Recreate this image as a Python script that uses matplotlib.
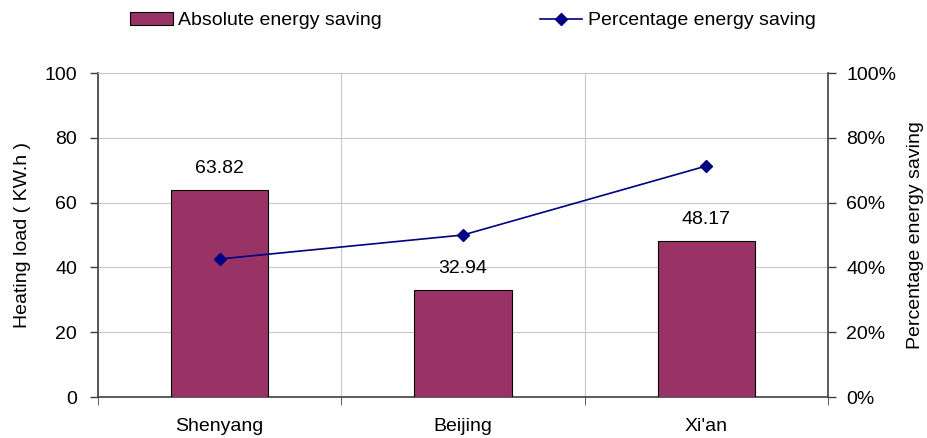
import matplotlib
matplotlib.use("Agg")
import matplotlib.pyplot as plt
from matplotlib.ticker import FuncFormatter, FixedLocator
from matplotlib.patches import Patch
from matplotlib.lines import Line2D

plt.rcParams['font.family'] = ['Liberation Sans', 'DejaVu Sans']

cities = ["Shenyang", "Beijing", "Xi'an"]
absolute_saving = [63.82, 32.94, 48.17]
percentage_saving = [42.6, 50.0, 71.3]

bar_color = "#993366"
line_color = "#000080"
FS = 14

fig = plt.figure(figsize=(9.28, 4.38), dpi=100)
ax = fig.add_axes([98 / 928, 1 - 397 / 438, 730 / 928, 324 / 438])

x = list(range(len(cities)))
ax.bar(x, absolute_saving, width=0.40, color=bar_color,
       edgecolor="black", linewidth=0.8, zorder=3)
for xi, v in zip(x, absolute_saving):
    ax.text(xi, v + 4, f"{v:.2f}", ha="center", va="bottom", fontsize=FS)

ax.set_xlim(-0.5, len(cities) - 0.5)
ax.set_ylim(0, 100)
ax.set_yticks([0, 20, 40, 60, 80, 100])
ax.set_xticks(x)
ax.set_xticklabels(cities, fontsize=FS)
ax.tick_params(axis="x", length=0, pad=15)
ax.xaxis.set_minor_locator(FixedLocator([-0.5, 0.5, 1.5, 2.5]))
ax.tick_params(axis="x", which="minor", length=6, direction="out", color="#404040")
ax.tick_params(axis="y", labelsize=FS, length=6, width=1, direction="out",
               color="#404040", pad=9)
ax.set_ylabel("Heating load ( KW.h )", fontsize=FS, labelpad=10)

ax.grid(axis="y", color="#c8c8c8", linewidth=0.8, zorder=0)
ax.grid(axis="x", which="minor", color="#c8c8c8", linewidth=0.8, zorder=0)
ax.spines["top"].set_color("#c8c8c8")
ax.spines["top"].set_linewidth(0.8)
ax.spines["left"].set_color("#404040")
ax.spines["bottom"].set_color("#404040")
ax.spines["left"].set_linewidth(1.2)
ax.spines["bottom"].set_linewidth(1.2)
ax.spines["right"].set_visible(False)

ax2 = ax.twinx()
ax2.plot(x, percentage_saving, color=line_color, marker="D", markersize=6,
         linewidth=1.2, zorder=4)
ax2.set_ylim(0, 100)
ax2.set_yticks([0, 20, 40, 60, 80, 100])
ax2.yaxis.set_major_formatter(FuncFormatter(lambda v, p: f"{v:.0f}%"))
ax2.tick_params(axis="y", labelsize=FS, length=6, width=1, direction="out",
                color="#404040", pad=7)
ax2.set_ylabel("Percentage energy saving", fontsize=FS, labelpad=8)
for s in ["top", "left", "bottom"]:
    ax2.spines[s].set_visible(False)
ax2.spines["right"].set_color("#404040")
ax2.spines["right"].set_linewidth(1.2)

handles = [
    Patch(facecolor=bar_color, edgecolor="black", linewidth=0.8),
    Line2D([0], [0], color=line_color, marker="D", markersize=6, linewidth=1.2),
]
labels = ["Absolute energy saving", "Percentage energy saving"]
fig.legend(handles, labels, loc="center", bbox_to_anchor=(473 / 928, 0.953),
           ncol=2, frameon=False, fontsize=FS, columnspacing=8.1,
           handlelength=2.2, handleheight=0.65, handletextpad=0.3)

fig.savefig("out.png", dpi=100)
